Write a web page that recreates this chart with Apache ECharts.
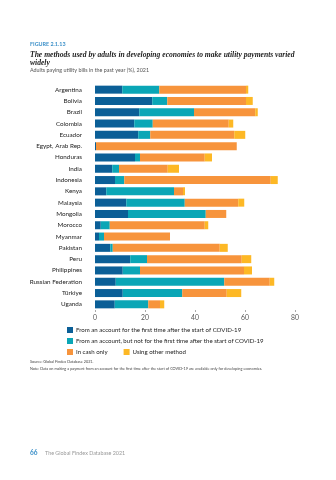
<!DOCTYPE html>
<html>
<head>
<meta charset="utf-8">
<script src="https://cdn.jsdelivr.net/npm/echarts@6/dist/echarts.min.js"></script>
<style>
html,body{margin:0;padding:0;background:#fff;}
#chart{width:336px;height:480px;}
</style>
</head>
<body>
<div id="chart"></div>
<script>
var categories = ["Argentina","Bolivia","Brazil","Colombia","Ecuador","Egypt, Arab Rep.","Honduras","India","Indonesia","Kenya","Malaysia","Mongolia","Morocco","Myanmar","Pakistan","Peru","Philippines","Russian Federation","Türkiye","Uganda"];
var firstTimeAccount = [10.9,22.9,17.7,15.7,17.3,0.4,16.0,6.9,8.0,4.5,12.5,13.2,2.3,1.6,6.1,14.1,11.1,8.3,11.1,7.9];
var notFirstTimeAccount = [14.8,6.0,21.9,7.4,4.8,0.0,2.0,2.7,3.7,27.1,23.4,31.1,3.6,2.0,1.0,6.7,6.9,43.4,23.8,13.4];
var cashOnly = [34.7,31.5,24.5,30.4,33.6,56.3,25.9,19.5,58.6,3.6,21.4,8.2,38.0,26.4,42.8,37.9,41.6,18.2,17.8,4.7];
var otherMethod = [0.9,2.7,1.0,1.8,4.4,0.0,2.9,4.5,2.8,0.8,2.4,0.0,1.4,0.0,3.2,3.8,3.2,1.8,5.8,1.7];
var xTicks = [0,20,40,60,80];
var seriesNames = ["From an account for the first time after the start of COVID-19","From an account, but not for the first time after the start of COVID-19","In cash only","Using other method"];
var colors = ["#0b5f97","#0aa6b6","#f7943c","#fdb825"];

var font = "Lato, 'Open Sans', sans-serif";
var chart = echarts.init(document.getElementById('chart'), null, {renderer:'canvas'});
var dataSets = [firstTimeAccount, notFirstTimeAccount, cashOnly, otherMethod];
var series = dataSets.map(function(d,i){
  return {name: seriesNames[i], type:'bar', stack:'total', data:d, barWidth:8,
    itemStyle:{color:colors[i]}, emphasis:{disabled:true}, silent:true};
});
var legendBase = {orient:'horizontal', itemWidth:6, itemHeight:6, icon:'rect', itemGap:16, padding:0,
  textStyle:{fontFamily:font, fontSize:6.1, color:'#222', padding:[0,0,0,-2]}, selectedMode:false};
function t(text, left, top, style){
  return {text:text, left:left, top:top, padding:0, textStyle:Object.assign({fontFamily:font, fontWeight:'normal'}, style)};
}
chart.setOption({
  animation:false,
  color: colors,
  title:[
    t("FIGURE 2.1.13", 30, 41.7, {fontSize:5.4, fontWeight:'bold', color:'#3a8fc8'}),
    t("The methods used by adults in developing economies to make utility payments varied\nwidely", 30, 50.5,
      {fontFamily:"'Liberation Serif', serif", fontStyle:'italic', fontWeight:'bold', fontSize:7.6, lineHeight:8.4, color:'#222'}),
    t("Adults paying utility bills in the past year (%), 2021", 30, 67.8, {fontSize:5.4, color:'#555'}),
    t("Source: Global Findex Database 2021.", 30, 359.8, {fontSize:3.8, color:'#444'}),
    t("Note: Data on making a payment from an account for the first time after the start of COVID-19 are available only for developing economies.", 30, 366.4, {fontSize:3.8, color:'#444'}),
    t("66", 30, 449.5, {fontSize:6.5, fontWeight:'bold', color:'#3a8fc8'}),
    t("The Global Findex Database 2021", 45, 450.3, {fontSize:5.4, color:'#999'})
  ],
  legend:[
    Object.assign({}, legendBase, {left:67, top:327, data:[seriesNames[0]]}),
    Object.assign({}, legendBase, {left:67, top:338, data:[seriesNames[1]]}),
    Object.assign({}, legendBase, {left:67, top:349, data:[seriesNames[2], seriesNames[3]]})
  ],
  grid:{left:95, right:41, top:84, height:226, containLabel:false},
  xAxis:{type:'value', min:0, max:80, interval:20,
    axisLine:{show:false},
    axisTick:{show:true, length:2, lineStyle:{color:'#aaa'}},
    splitLine:{show:false},
    axisLabel:{fontFamily:font, fontSize:6.8, color:'#555', margin:4}},
  yAxis:{type:'category', data:categories, inverse:true,
    axisLine:{show:false}, axisTick:{show:false},
    axisLabel:{fontFamily:font, fontSize:6.3, color:'#222', margin:13}},
  series: series
});
</script>
</body>
</html>
